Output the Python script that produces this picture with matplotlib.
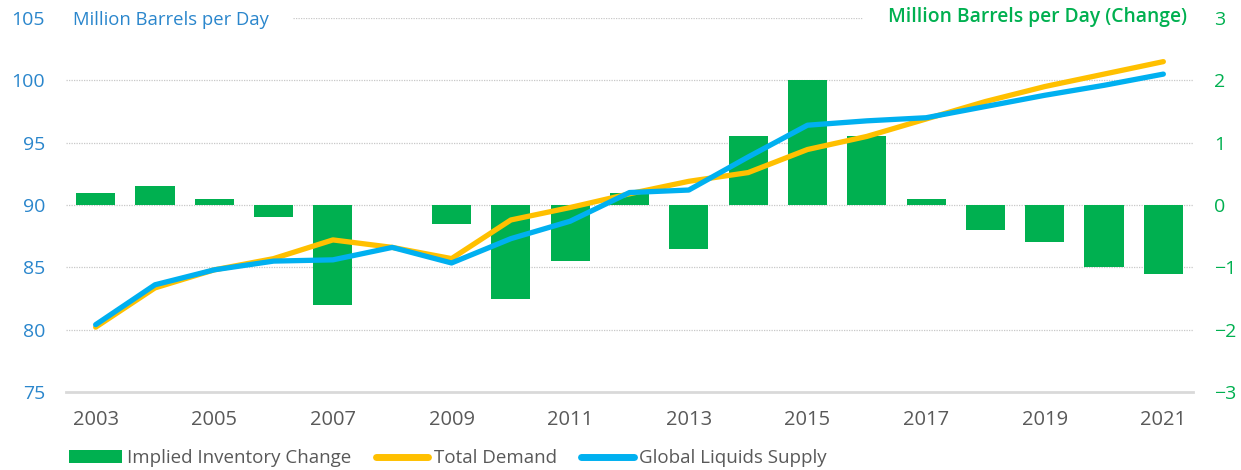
import matplotlib
matplotlib.use("Agg")
import matplotlib.pyplot as plt
from matplotlib.patches import Patch
from matplotlib.lines import Line2D

plt.rcParams['font.family'] = ['Open Sans', 'DejaVu Sans']

years = list(range(2003, 2022))
inventory_change = [0.2, 0.3, 0.1, -0.2, -1.6, 0.0, -0.3, -1.5, -0.9, 0.2,
                    -0.7, 1.1, 2.0, 1.1, 0.1, -0.4, -0.6, -1.0, -1.1]
total_demand = [80.2, 83.35, 84.8, 85.7, 87.2, 86.6, 85.7, 88.8, 89.8, 90.9,
                91.9, 92.6, 94.45, 95.5, 96.9, 98.3, 99.5, 100.5, 101.5]
liquids_supply = [80.4, 83.6, 84.8, 85.5, 85.6, 86.6, 85.35, 87.3, 88.7, 91.0,
                  91.2, 93.85, 96.4, 96.75, 97.0, 97.9, 98.8, 99.6, 100.5]
xtick_years = [2003, 2005, 2007, 2009, 2011, 2013, 2015, 2017, 2019, 2021]
left_ticks = [75, 80, 85, 90, 95, 100, 105]
right_ticks = [-3, -2, -1, 0, 1, 2, 3]

GREEN = '#00b050'
YELLOW = '#ffc000'
BLUE = '#00b0f0'
LBLUE = '#2a86cc'
GREY = '#595959'
GRID = '#c8c8c8'

fig = plt.figure(figsize=(12.41, 4.70), dpi=100)
ax = fig.add_axes([66/1241, 1-392/470, (1193-66)/1241, (392-18)/470])
ax2 = ax.twinx()

# bars on primary axes (right scale)
ax.bar(years, inventory_change, width=0.66, color=GREEN, zorder=2)
ax.set_ylim(-3, 3)
ax.set_xlim(2002.5, 2021.5)
ax.yaxis.tick_right()
ax.set_yticks(right_ticks)
ax.set_yticklabels([str(t).replace('-', '\u2212') for t in right_ticks])
ax.tick_params(axis='y', colors=GREEN, labelsize=14, length=0, pad=15)
ax.set_xticks(xtick_years)
ax.set_xticklabels([str(y) for y in xtick_years])
ax.tick_params(axis='x', colors=GREY, labelsize=14.5, length=0, pad=13)
for s in ['top', 'left', 'right']:
    ax.spines[s].set_visible(False)
ax.spines['bottom'].set_color('#d9d9d9')
ax.spines['bottom'].set_linewidth(2)
for v in right_ticks[1:-1]:
    ax.axhline(v, color=GRID, lw=0.9, ls=(0, (1, 1)), zorder=1)
ax.hlines(3, (293-66)/1127, (862-66)/1127, transform=ax.get_yaxis_transform(),
          color=GRID, lw=0.9, ls=(0, (1, 1)), zorder=1)

# lines on twin axes (left scale)
ax2.plot(years, total_demand, color=YELLOW, lw=3.8, solid_capstyle='round', zorder=3)
ax2.plot(years, liquids_supply, color=BLUE, lw=3.8, solid_capstyle='round', zorder=4)
ax2.set_ylim(75, 105)
ax2.yaxis.tick_left()
ax2.set_yticks(left_ticks)
ax2.tick_params(axis='y', colors=LBLUE, labelsize=14, length=0, pad=15)
for s in ax2.spines.values():
    s.set_visible(False)

fig.text(73/1241, 1-20/470, 'Million Barrels per Day', color=LBLUE, fontsize=13.3,
         ha='left', va='center')
fig.text(1187/1241, 1-17/470, 'Million Barrels per Day (Change)', color=GREEN,
         fontsize=13.9, fontweight='semibold', ha='right', va='center')

handles = [Patch(facecolor=GREEN, edgecolor='none'),
           Line2D([], [], color=YELLOW, lw=5, solid_capstyle='round'),
           Line2D([], [], color=BLUE, lw=5, solid_capstyle='round')]
labels = ['Implied Inventory Change', 'Total Demand', 'Global Liquids Supply']
leg = fig.legend(handles, labels, loc='center left', bbox_to_anchor=(69/1241, 1-458/470),
                 ncol=3, frameon=False, fontsize=13.5, handlelength=2.8,
                 handleheight=0.65, handletextpad=0.3, columnspacing=1.3,
                 borderaxespad=0, borderpad=0)
for t in leg.get_texts():
    t.set_color(GREY)

fig.savefig('out.png', dpi=100)
